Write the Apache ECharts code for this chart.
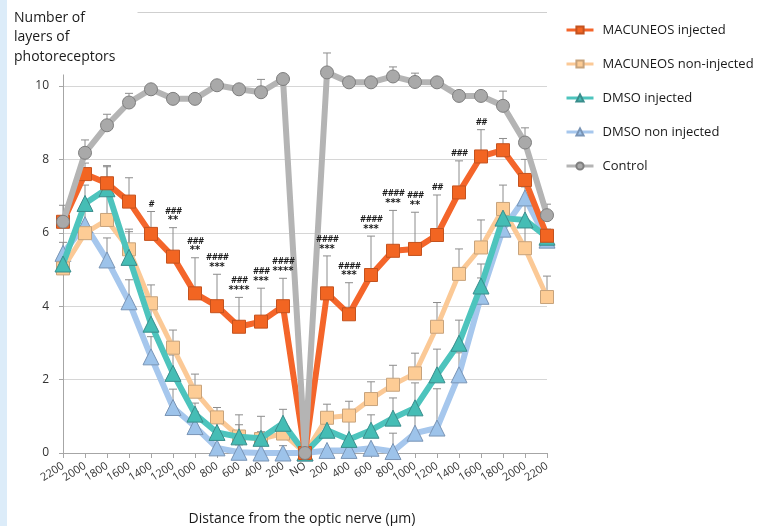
<!DOCTYPE html>
<html>
<head>
<meta charset="utf-8">
<script src="https://cdn.jsdelivr.net/npm/echarts@6/dist/echarts.min.js"></script>
<style>
  html, body { margin: 0; padding: 0; background: #dcecf9; }
  #chart { position: absolute; left: 7px; top: 0; width: 756px; height: 526px; background: #ffffff; }
</style>
</head>
<body>
<div id="chart"></div>
<script>
// Distance from the optic nerve (µm), temporal side -> optic nerve -> nasal side
const categories = ['2200','2000','1800','1600','1400','1200','1000','800','600','400','200','NO',
                    '200','400','600','800','1000','1200','1400','1600','1800','2000','2200'];

const seriesNames = ['MACUNEOS injected', 'MACUNEOS non-injected', 'DMSO injected', 'DMSO non injected', 'Control'];

// mean number of photoreceptor layers
const macuneosInjected    = [6.30, 7.60, 7.35, 6.85, 5.97, 5.35, 4.35, 4.00, 3.44, 3.58, 4.00, 0,
                             4.35, 3.78, 4.85, 5.51, 5.56, 5.94, 7.10, 8.08, 8.25, 7.44, 5.92];
const macuneosNonInjected = [5.03, 5.99, 6.35, 5.55, 4.08, 2.87, 1.67, 0.97, 0.45, 0.38, 0.53, 0,
                             0.96, 1.02, 1.47, 1.86, 2.17, 3.44, 4.88, 5.60, 6.65, 5.58, 4.25];
const dmsoInjected        = [5.15, 6.80, 7.20, 5.33, 3.51, 2.17, 1.06, 0.56, 0.44, 0.40, 0.81, 0,
                             0.62, 0.37, 0.62, 0.95, 1.23, 2.13, 2.99, 4.55, 6.40, 6.35, 5.88];
const dmsoNonInjected     = [5.44, 6.22, 5.26, 4.12, 2.62, 1.24, 0.72, 0.14, 0.02, 0.00, 0.00, 0,
                             0.07, 0.07, 0.13, 0.04, 0.54, 0.68, 2.13, 4.27, 6.10, 6.95, 5.80];
const control             = [6.30, 8.18, 8.93, 9.55, 9.91, 9.65, 9.65, 10.02, 9.91, 9.83, 10.19, 0,
                             10.37, 10.10, 10.10, 10.26, 10.11, 10.10, 9.73, 9.73, 9.46, 8.46, 6.48];

// upper error (SEM)
const macuneosInjectedErr    = [0, 0.30, 0.48, 0.65, 0.61, 0.79, 0.97, 0.87, 0.80, 0.91, 0.76, 0,
                                1.02, 0.86, 1.06, 1.10, 1.00, 1.09, 0.86, 0.73, 0.32, 0.56, 0];
const macuneosNonInjectedErr = [0, 0, 0.70, 0.55, 0.50, 0.48, 0.48, 0.27, 0.32, 0.20, 0, 0,
                                0.37, 0.39, 0.47, 0.53, 0.55, 0.66, 0.68, 0.75, 0.65, 0.75, 0.57];
const dmsoInjectedErr        = [0, 0.50, 0.60, 0.70, 0.50, 0.50, 0.30, 0.35, 0.60, 0.60, 0.38, 0,
                                0.35, 0.50, 0.42, 0.55, 0.68, 0.70, 0.63, 0.60, 0.40, 0.40, 0];
const dmsoNonInjectedErr     = [0.30, 0.40, 0.60, 0.60, 0.55, 0.50, 0.40, 0.30, 0.20, 0.20, 0.20, 0,
                                0, 0, 0, 0.50, 0.50, 1.07, 0.60, 0.50, 0.35, 0.30, 0.30];
const controlErr             = [0.45, 0.35, 0.30, 0.25, 0, 0, 0, 0, 0, 0.35, 0, 0,
                                0.53, 0, 0, 0.26, 0.24, 0, 0, 0, 0.40, 0.40, 0.30];

// significance marks above MACUNEOS injected
const sigHash  = ['', '', '', '', '#', '###', '###', '####', '###', '###', '####', '',
                  '####', '####', '####', '####', '###', '##', '###', '##', '', '', ''];
const sigStars = ['', '', '', '', '', '**', '**', '***', '****', '***', '****', '',
                  '***', '***', '***', '***', '**', '', '', '', '', '', ''];

const yTicks = [0, 2, 4, 6, 8, 10];

const styles = [
  { line: '#f4652a', fill: '#f26522', border: '#c4521e', symbol: 'rect',     size: 13, width: 6, z: 5 },
  { line: '#fbc996', fill: '#fdcc95', border: '#c7a37c', symbol: 'rect',     size: 13, width: 5, z: 3 },
  { line: '#4dc4bd', fill: '#45bdb5', border: '#3a8d8c', symbol: 'triangle', size: 16, width: 6, z: 4 },
  { line: '#a6c7ed', fill: '#9dc3ea', border: '#7994b5', symbol: 'triangle', size: 16, width: 6, z: 2 },
  { line: '#b4b4b4', fill: '#a9a9a9', border: '#7e7e7e', symbol: 'circle',   size: 13, width: 6, z: 6 }
];
const values = [macuneosInjected, macuneosNonInjected, dmsoInjected, dmsoNonInjected, control];
const errors = [macuneosInjectedErr, macuneosNonInjectedErr, dmsoInjectedErr, dmsoNonInjectedErr, controlErr];

const chart = echarts.init(document.getElementById('chart'), null, { renderer: 'canvas' });

// upper error bar with a small cap
function errorBarSeries(vals, errs, z) {
  return {
    type: 'custom',
    z: z,
    silent: true,
    data: vals.map((v, i) => [i, v, errs[i]]),
    renderItem: function (params, api) {
      const e = api.value(2);
      if (!e) return null;
      const p0 = api.coord([api.value(0), api.value(1)]);
      const p1 = api.coord([api.value(0), api.value(1) + e]);
      const st = { stroke: '#8c8c8c', lineWidth: 1 };
      return {
        type: 'group',
        children: [
          { type: 'line', shape: { x1: p0[0], y1: p0[1], x2: p1[0], y2: p1[1] }, style: st },
          { type: 'line', shape: { x1: p1[0] - 4, y1: p1[1], x2: p1[0] + 4, y2: p1[1] }, style: st }
        ]
      };
    }
  };
}

const lineSeries = seriesNames.map((name, k) => ({
  name: name,
  type: 'line',
  z: styles[k].z + 10,
  data: values[k],
  symbol: styles[k].symbol,
  symbolSize: styles[k].size,
  showAllSymbol: true,
  lineStyle: { color: styles[k].line, width: styles[k].width },
  itemStyle: { color: styles[k].fill, borderColor: styles[k].border, borderWidth: 1 },
  emphasis: { disabled: true },
  animation: false
}));

const errSeries = seriesNames.map((name, k) => errorBarSeries(values[k], errors[k], styles[k].z + 5));

// stars sit just above the cap, hashes stacked above them
const sigSeries = {
  type: 'custom',
  z: 30,
  silent: true,
  data: macuneosInjected.map((v, i) => [i, v + macuneosInjectedErr[i]]),
  renderItem: function (params, api) {
    const i = params.dataIndex;
    const rows = [];
    if (sigStars[i]) rows.push({ t: sigStars[i], star: true });
    if (sigHash[i]) rows.push({ t: sigHash[i], star: false });
    if (!rows.length) return null;
    const p = api.coord([api.value(0), api.value(1)]);
    return {
      type: 'group',
      children: rows.map((r, j) => ({
        type: 'text',
        x: p[0],
        y: p[1] - 7 - j * 9,
        style: {
          text: r.t,
          fill: '#1e1e1e',
          font: r.star ? 'bold 10px "DejaVu Sans"' : 'italic bold 8px "DejaVu Sans"',
          textAlign: 'center',
          textVerticalAlign: 'middle'
        }
      }))
    };
  }
};

const option = {
  animation: false,
  backgroundColor: '#ffffff',
  title: [
    {
      text: 'Number of\nlayers of\nphotoreceptors',
      left: 3, top: 2,
      backgroundColor: '#ffffff',
      padding: [6, 22, 8, 4],
      textStyle: { fontFamily: 'Open Sans', fontSize: 14, fontWeight: 'normal', color: '#1a1a1a', lineHeight: 19.5 }
    },
    {
      text: 'Distance from the optic nerve (µm)',
      left: 290, top: 507, textAlign: 'center',
      textStyle: { fontFamily: 'Open Sans', fontSize: 14, fontWeight: 'normal', color: '#1a1a1a' }
    }
  ],
  legend: {
    data: seriesNames,
    orient: 'vertical',
    left: 553, top: 17,
    itemWidth: 27, itemHeight: 9, itemGap: 18,
    lineStyle: { width: 3 },
    textStyle: { fontFamily: 'Open Sans', fontSize: 13, color: '#1a1a1a', lineHeight: 16, padding: [0, 0, 0, 4] }
  },
  grid: { left: 56, right: 216, top: 12.6, bottom: 73, containLabel: false },
  xAxis: {
    type: 'category',
    data: categories,
    boundaryGap: false,
    axisLine: { lineStyle: { color: '#a6a6a6', width: 1 } },
    axisTick: { show: true, alignWithLabel: true, length: 5, lineStyle: { color: '#a6a6a6' } },
    axisLabel: {
      interval: 0, rotate: 33, margin: 12,
      fontFamily: 'Open Sans', fontSize: 11, color: '#333'
    },
    splitLine: { show: false }
  },
  yAxis: {
    type: 'value',
    min: 0, max: 12, interval: 2,
    axisLine: { show: true, lineStyle: { color: '#a6a6a6', width: 1 } },
    axisTick: { show: true, length: 4, lineStyle: { color: '#a6a6a6' } },
    axisLabel: {
      margin: 14, fontFamily: 'Open Sans', fontSize: 12, color: '#333',
      formatter: v => (yTicks.indexOf(v) >= 0 ? String(v) : '')
    },
    splitLine: { show: true, lineStyle: { color: ['#d6d6d6', '#d6d6d6', '#d6d6d6', '#d6d6d6', '#d6d6d6', '#d6d6d6', '#cfcfcf'], width: 1 } }
  },
  series: [...errSeries, ...lineSeries, sigSeries]
};

chart.setOption(option);
</script>
</body>
</html>
